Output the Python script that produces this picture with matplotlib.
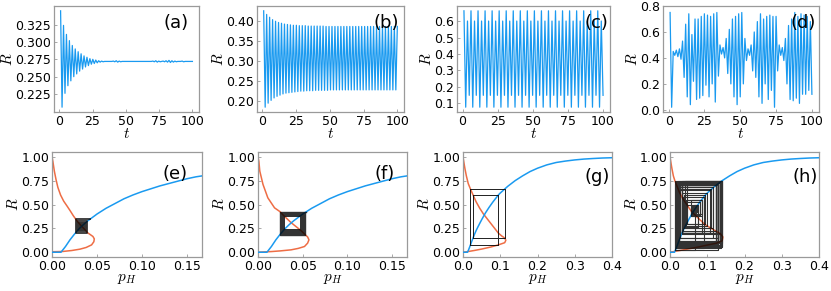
"""
Map dynamics: R time series (top) and cobweb diagrams (bottom)
"""

import numpy as np
import matplotlib
matplotlib.use("Agg")
import matplotlib.pyplot as plt

plt.rcParams["font.family"] = "DejaVu Sans"
plt.rcParams["mathtext.fontset"] = "cm"

BLUE = "#1a9af0"
ORANGE = "#ee6d45"
FRAME = "#9a9a9a"

# Time series R(t)

r_a = [0.345, 0.206, 0.324, 0.226, 0.311, 0.237, 0.302, 0.244, 0.295, 0.250,
       0.290, 0.254, 0.286, 0.258, 0.283, 0.261, 0.280, 0.264, 0.278, 0.266,
       0.276, 0.268, 0.275, 0.269, 0.274, 0.270, 0.273, 0.271, 0.2725, 0.2715,
       0.272, 0.272, 0.272, 0.272, 0.272, 0.272, 0.2725, 0.2715, 0.273, 0.271,
       0.2725, 0.2715, 0.272, 0.272, 0.272, 0.272, 0.272, 0.272, 0.272, 0.272,
       0.272, 0.272, 0.272, 0.272, 0.272, 0.272, 0.272, 0.272, 0.272, 0.272,
       0.272, 0.272, 0.272, 0.2725, 0.2715, 0.273, 0.271, 0.2725, 0.2715, 0.272,
       0.2725, 0.2715, 0.273, 0.271, 0.2735, 0.2705, 0.273, 0.271, 0.2725, 0.2715,
       0.272, 0.272, 0.272, 0.2725, 0.2715, 0.272, 0.272, 0.272, 0.272, 0.272,
       0.272]
p_a = [0.0421, 0.0265, 0.0393, 0.0283, 0.0376, 0.0293, 0.0365, 0.0299, 0.0356, 0.0306,
       0.0350, 0.0310, 0.0346, 0.0314, 0.0342, 0.0318, 0.0339, 0.0321, 0.0337, 0.0323,
       0.0334, 0.0326, 0.0333, 0.0327, 0.0332, 0.0328, 0.0331, 0.0329, 0.0330, 0.0330,
       0.0330, 0.0330, 0.0330, 0.0330, 0.0330, 0.0330, 0.0330, 0.0330, 0.0331, 0.0329,
       0.0330, 0.0330, 0.0330, 0.0330, 0.0330, 0.0330, 0.0330, 0.0330, 0.0330, 0.0330,
       0.0330, 0.0330, 0.0330, 0.0330, 0.0330, 0.0330, 0.0330, 0.0330, 0.0330, 0.0330,
       0.0330, 0.0330, 0.0330, 0.0330, 0.0330, 0.0331, 0.0329, 0.0330, 0.0330, 0.0330,
       0.0330, 0.0330, 0.0331, 0.0329, 0.0332, 0.0328, 0.0331, 0.0329, 0.0330, 0.0330,
       0.0330, 0.0330, 0.0330, 0.0330, 0.0330, 0.0330, 0.0330, 0.0330, 0.0330, 0.0330,
       0.0330]

r_b = [0.425, 0.185, 0.416, 0.195, 0.409, 0.202, 0.403, 0.208, 0.399, 0.212,
       0.396, 0.215, 0.394, 0.218, 0.392, 0.220, 0.391, 0.221, 0.390, 0.222,
       0.389, 0.223, 0.389, 0.224, 0.388, 0.225, 0.388, 0.225, 0.388, 0.226,
       0.387, 0.226, 0.387, 0.226, 0.387, 0.227, 0.387, 0.227, 0.387, 0.227,
       0.387, 0.227, 0.386, 0.227, 0.386, 0.228, 0.386, 0.228, 0.386, 0.228,
       0.386, 0.228, 0.386, 0.228, 0.386, 0.228, 0.386, 0.228, 0.386, 0.228,
       0.386, 0.228, 0.386, 0.228, 0.386, 0.228, 0.386, 0.228, 0.386, 0.228,
       0.386, 0.228, 0.386, 0.228, 0.386, 0.228, 0.386, 0.228, 0.386, 0.228,
       0.386, 0.228, 0.386, 0.228, 0.386, 0.228, 0.386, 0.228, 0.386, 0.228,
       0.386]
p_b = [0.0542, 0.0246, 0.0527, 0.0255, 0.0515, 0.0261, 0.0505, 0.0266, 0.0499, 0.0270,
       0.0494, 0.0273, 0.0491, 0.0275, 0.0489, 0.0277, 0.0487, 0.0278, 0.0486, 0.0279,
       0.0484, 0.0280, 0.0484, 0.0281, 0.0483, 0.0282, 0.0483, 0.0282, 0.0483, 0.0283,
       0.0481, 0.0283, 0.0481, 0.0283, 0.0481, 0.0284, 0.0481, 0.0284, 0.0481, 0.0284,
       0.0481, 0.0284, 0.0480, 0.0284, 0.0480, 0.0285, 0.0480, 0.0285, 0.0480, 0.0285,
       0.0480, 0.0285, 0.0480, 0.0285, 0.0480, 0.0285, 0.0480, 0.0285, 0.0480, 0.0285,
       0.0480, 0.0285, 0.0480, 0.0285, 0.0480, 0.0285, 0.0480, 0.0285, 0.0480, 0.0285,
       0.0480, 0.0285, 0.0480, 0.0285, 0.0480, 0.0285, 0.0480, 0.0285, 0.0480, 0.0285,
       0.0480, 0.0285, 0.0480, 0.0285, 0.0480, 0.0285, 0.0480, 0.0285, 0.0480, 0.0285,
       0.0480]

r_c = [0.662, 0.077, 0.600, 0.149, 0.662, 0.077, 0.600, 0.149,
       0.662, 0.077, 0.600, 0.149, 0.662, 0.077, 0.600, 0.149,
       0.662, 0.077, 0.600, 0.149, 0.662, 0.077, 0.600, 0.149,
       0.662, 0.077, 0.600, 0.149, 0.662, 0.077, 0.600, 0.149,
       0.662, 0.077, 0.600, 0.149, 0.662, 0.077, 0.600, 0.149,
       0.662, 0.077, 0.600, 0.149, 0.662, 0.077, 0.600, 0.149,
       0.662, 0.077, 0.600, 0.149, 0.662, 0.077, 0.600, 0.149,
       0.662, 0.077, 0.600, 0.149, 0.662, 0.077, 0.600, 0.149,
       0.662, 0.077, 0.600, 0.149, 0.662, 0.077, 0.600, 0.149,
       0.662, 0.077, 0.600, 0.149, 0.662, 0.077, 0.600, 0.149]
p_c = [0.112, 0.020, 0.095, 0.027, 0.112, 0.020, 0.095, 0.027,
       0.112, 0.020, 0.095, 0.027, 0.112, 0.020, 0.095, 0.027,
       0.112, 0.020, 0.095, 0.027, 0.112, 0.020, 0.095, 0.027,
       0.112, 0.020, 0.095, 0.027, 0.112, 0.020, 0.095, 0.027,
       0.112, 0.020, 0.095, 0.027, 0.112, 0.020, 0.095, 0.027,
       0.112, 0.020, 0.095, 0.027, 0.112, 0.020, 0.095, 0.027,
       0.112, 0.020, 0.095, 0.027, 0.112, 0.020, 0.095, 0.027,
       0.112, 0.020, 0.095, 0.027, 0.112, 0.020, 0.095, 0.027,
       0.112, 0.020, 0.095, 0.027, 0.112, 0.020, 0.095, 0.027,
       0.112, 0.020, 0.095, 0.027, 0.112, 0.020, 0.095, 0.027]

r_d = [0.75, 0.02, 0.45, 0.42, 0.46, 0.41, 0.47, 0.39, 0.53, 0.25,
       0.66, 0.10, 0.74, 0.04, 0.58, 0.22, 0.70, 0.08, 0.70, 0.09,
       0.72, 0.11, 0.74, 0.19, 0.73, 0.10, 0.72, 0.20, 0.74, 0.06,
       0.75, 0.26, 0.50, 0.43, 0.48, 0.40, 0.55, 0.28, 0.62, 0.20,
       0.70, 0.10, 0.72, 0.04, 0.74, 0.10, 0.75, 0.20, 0.55, 0.38,
       0.47, 0.42, 0.50, 0.30, 0.60, 0.25, 0.68, 0.10, 0.74, 0.05,
       0.70, 0.20, 0.72, 0.08, 0.73, 0.15, 0.72, 0.02, 0.72, 0.30,
       0.50, 0.42, 0.48, 0.38, 0.55, 0.20, 0.65, 0.08, 0.70, 0.07,
       0.75, 0.09, 0.72, 0.05, 0.74, 0.12, 0.73, 0.12, 0.72, 0.15,
       0.68, 0.12]
p_d = [0.1400, 0.0144, 0.0667, 0.0617, 0.0683, 0.0600, 0.0700, 0.0571, 0.0810, 0.0381,
       0.1114, 0.0222, 0.1367, 0.0164, 0.0910, 0.0344, 0.1233, 0.0203, 0.1233, 0.0212,
       0.1300, 0.0231, 0.1367, 0.0311, 0.1333, 0.0222, 0.1300, 0.0322, 0.1367, 0.0184,
       0.1400, 0.0394, 0.0755, 0.0633, 0.0718, 0.0586, 0.0850, 0.0420, 0.1000, 0.0322,
       0.1233, 0.0222, 0.1300, 0.0164, 0.1367, 0.0222, 0.1400, 0.0322, 0.0850, 0.0557,
       0.0700, 0.0617, 0.0755, 0.0447, 0.0950, 0.0381, 0.1167, 0.0222, 0.1367, 0.0174,
       0.1233, 0.0322, 0.1300, 0.0203, 0.1333, 0.0271, 0.1300, 0.0144, 0.1300, 0.0447,
       0.0755, 0.0617, 0.0718, 0.0557, 0.0850, 0.0322, 0.1086, 0.0203, 0.1233, 0.0193,
       0.1400, 0.0212, 0.1300, 0.0174, 0.1367, 0.0241, 0.1333, 0.0241, 0.1300, 0.0271,
       0.1167, 0.0241]

# Blue curve R = f(pH), two parameter sets

blue_ef_p = [0.0, 0.010, 0.015, 0.02, 0.025, 0.03, 0.035, 0.04, 0.045, 0.05, 0.055,
             0.06, 0.07, 0.08, 0.09, 0.10, 0.11, 0.12, 0.13, 0.14, 0.15, 0.16, 0.167]
blue_ef_r = [0.0, 0.0, 0.06, 0.13, 0.19, 0.245, 0.29, 0.33, 0.365, 0.40, 0.43,
             0.46, 0.51, 0.56, 0.60, 0.635, 0.665, 0.695, 0.72, 0.745, 0.77, 0.79, 0.80]

blue_gh_p = [0.0, 0.012, 0.015, 0.02, 0.025, 0.027, 0.03, 0.035, 0.04, 0.05, 0.06,
             0.07, 0.08, 0.09, 0.095, 0.10, 0.112, 0.12, 0.14, 0.16, 0.18, 0.20,
             0.225, 0.25, 0.275, 0.30, 0.325, 0.35, 0.375, 0.40]
blue_gh_r = [0.0, 0.0, 0.025, 0.077, 0.13, 0.149, 0.18, 0.225, 0.265, 0.34, 0.41,
             0.47, 0.525, 0.575, 0.60, 0.62, 0.662, 0.69, 0.75, 0.80, 0.845, 0.88,
             0.915, 0.94, 0.955, 0.967, 0.976, 0.982, 0.987, 0.99]

# Orange curve pH = g(R), one per panel

orange_e_p = [0.0, 0.001, 0.0026, 0.0045, 0.0065, 0.0095, 0.013, 0.017, 0.0205, 0.0235,
              0.0265, 0.0293, 0.033, 0.0365, 0.0393, 0.0425, 0.0455, 0.047, 0.0465,
              0.044, 0.038, 0.031, 0.022, 0.012, 0.0]
orange_e_r = [1.0, 0.95, 0.85, 0.76, 0.68, 0.60, 0.535, 0.48, 0.43, 0.385,
              0.345, 0.311, 0.272, 0.237, 0.206, 0.185, 0.165, 0.14, 0.11,
              0.077, 0.05, 0.032, 0.018, 0.008, 0.005]

orange_f_p = [0.0, 0.001, 0.002, 0.0056, 0.011, 0.0185, 0.0246, 0.0285, 0.037, 0.048,
              0.0527, 0.0555, 0.057, 0.0555, 0.052, 0.045, 0.037, 0.025, 0.015, 0.0]
orange_f_r = [1.0, 0.95, 0.85, 0.71, 0.57, 0.465, 0.425, 0.386, 0.31, 0.228,
              0.185, 0.16, 0.13, 0.095, 0.06, 0.04, 0.025, 0.014, 0.007, 0.0]

orange_g_p = [0.0, 0.002, 0.005, 0.009, 0.014, 0.020, 0.027, 0.035, 0.045, 0.055,
              0.065, 0.075, 0.085, 0.095, 0.104, 0.112, 0.115, 0.112, 0.095, 0.075,
              0.05, 0.03, 0.01, 0.0]
orange_g_r = [1.0, 0.95, 0.88, 0.80, 0.72, 0.662, 0.600, 0.53, 0.46, 0.40,
              0.35, 0.30, 0.25, 0.20, 0.17, 0.149, 0.125, 0.10, 0.077, 0.055,
              0.033, 0.018, 0.005, 0.0]

orange_h_p = [0.0, 0.002, 0.005, 0.009, 0.013, 0.018, 0.025, 0.033, 0.045, 0.057,
              0.075, 0.094, 0.115, 0.135, 0.142, 0.14, 0.125, 0.10, 0.076, 0.05,
              0.025, 0.0]
orange_h_r = [1.0, 0.95, 0.88, 0.80, 0.75, 0.70, 0.63, 0.57, 0.50, 0.43,
              0.36, 0.29, 0.24, 0.195, 0.16, 0.12, 0.095, 0.075, 0.055, 0.035,
              0.017, 0.0]

# Figure (axes placed in pixels of the 831 x 291 canvas)

W, H = 831, 291
fig = plt.figure(figsize=(W / 100, H / 100), dpi=100)


def px_axes(x0, x1, y0, y1):
    return fig.add_axes([x0 / W, 1 - y1 / H, (x1 - x0) / W, (y1 - y0) / H])


def style(ax):
    for s in ax.spines.values():
        s.set_color(FRAME)
        s.set_linewidth(0.9)
    ax.tick_params(direction="in", length=2.5, width=0.6, color=FRAME,
                   labelsize=9, pad=2)


top = [
    (px_axes(54, 199, 6, 112), r_a, [0.225, 0.250, 0.275, 0.300, 0.325], "{:.3f}", "(a)", 0.84),
    (px_axes(257, 404, 6, 112), r_b, [0.20, 0.25, 0.30, 0.35, 0.40], "{:.2f}", "(b)", 0.88),
    (px_axes(457, 610, 6, 112), r_c, [0.1, 0.2, 0.3, 0.4, 0.5, 0.6], "{:.1f}", "(c)", 0.91),
    (px_axes(663, 819, 6, 112), r_d, [0.0, 0.2, 0.4, 0.6, 0.8], "{:.1f}", "(d)", 0.90),
]

for ax, r, yt, fmt, lab, lx in top:
    t = np.linspace(1, 100, len(r))
    ax.plot(t, r, color=BLUE, lw=0.9)
    ax.set_xticks([0, 25, 50, 75, 100])
    ax.set_yticks(yt)
    ax.set_yticklabels([fmt.format(v) for v in yt])
    ax.set_xlabel("$t$", fontsize=11, labelpad=-1)
    ax.set_ylabel("$R$", fontsize=11, labelpad=0)
    ax.text(lx, 0.84, lab, transform=ax.transAxes, fontsize=13,
            ha="center", va="center")
    style(ax)


def cobweb(ax, p, r, lw, alpha):
    xs = np.repeat(p, 2)[1:]
    ys = np.repeat(r, 2)[:-1]
    ax.plot(xs, ys, color="black", lw=lw, alpha=alpha, zorder=4)


bottom = [
    (px_axes(52, 202, 152, 257), blue_ef_p, blue_ef_r, orange_e_p, orange_e_r,
     p_a, r_a, 1.3, 0.8, 0.1667, [0.00, 0.05, 0.10, 0.15], "{:.2f}", "(e)", 0.82, 0.79),
    (px_axes(258, 407, 152, 257), blue_ef_p, blue_ef_r, orange_f_p, orange_f_r,
     p_b, r_b, 1.0, 0.8, 0.1667, [0.00, 0.05, 0.10, 0.15], "{:.2f}", "(f)", 0.85, 0.79),
    (px_axes(463, 612, 152, 257), blue_gh_p, blue_gh_r, orange_g_p, orange_g_r,
     p_c, r_c, 0.6, 0.85, 0.4, [0.0, 0.1, 0.2, 0.3, 0.4], "{:.1f}", "(g)", 0.90, 0.76),
    (px_axes(670, 819, 152, 257), blue_gh_p, blue_gh_r, orange_h_p, orange_h_r,
     p_d, r_d, 0.8, 0.8, 0.4, [0.0, 0.1, 0.2, 0.3, 0.4], "{:.1f}", "(h)", 0.91, 0.76),
]

for ax, bp, br, op, orr, p, r, cw, ca, xmax, xt, fmt, lab, lx, ly in bottom:
    ax.plot(op, orr, color=ORANGE, lw=1.1, zorder=2)
    ax.plot(bp, br, color=BLUE, lw=1.1, zorder=3)
    cobweb(ax, p, r, cw, ca)
    ax.set_xlim(0, xmax)
    ax.set_ylim(-0.05, 1.05)
    ax.set_xticks(xt)
    ax.set_xticklabels([fmt.format(v) for v in xt])
    ax.set_yticks([0.0, 0.25, 0.5, 0.75, 1.0])
    ax.set_yticklabels(["0.00", "0.25", "0.50", "0.75", "1.00"])
    ax.set_xlabel("$p_H$", fontsize=11, labelpad=-1)
    ax.set_ylabel("$R$", fontsize=11, labelpad=0)
    ax.text(lx, ly, lab, transform=ax.transAxes, fontsize=13,
            ha="center", va="center")
    style(ax)

fig.savefig("out.png", dpi=100)
